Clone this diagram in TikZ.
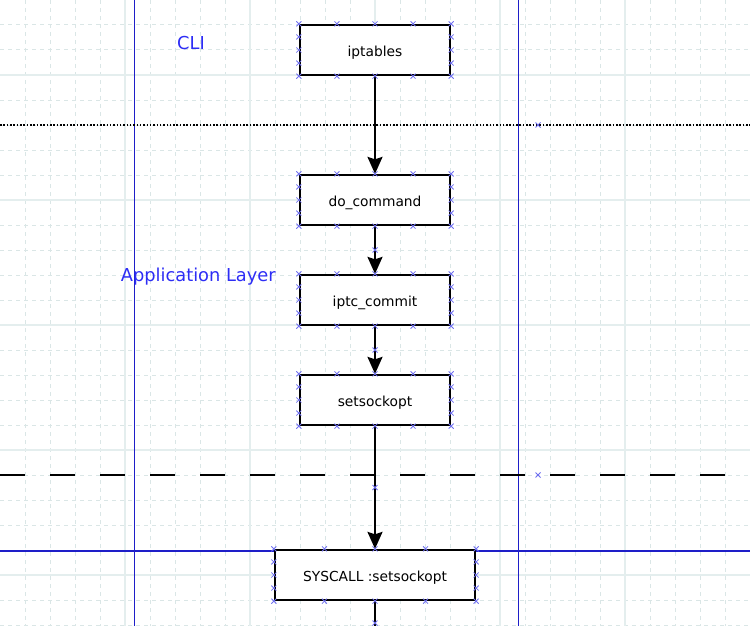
\documentclass[tikz,border=0pt]{standalone}
\usepackage{fontspec}
\setmainfont{DejaVu Sans}
\usetikzlibrary{arrows.meta,calc}
\definecolor{gridminor}{RGB}{218,230,230}
\definecolor{gridmajor}{RGB}{228,238,238}
\definecolor{laneblue}{RGB}{30,30,200}
\definecolor{labelblue}{RGB}{45,45,245}
\definecolor{markblue}{RGB}{110,110,240}
\tikzset{
  minorgrid/.style={draw=gridminor,line width=1pt,dash pattern=on 4pt off 4pt},
  majorgrid/.style={draw=gridmajor,line width=1.5pt},
  laneline/.style={draw=laneblue,line width=1.3pt},
  stepbox/.style={draw=black,fill=white,line width=2.3pt,minimum width=150pt,minimum height=50pt,inner sep=0pt,text height=13pt,text depth=0pt,font=\fontsize{13.8pt}{16pt}\selectfont},
  conn/.style={draw=black,line width=2pt,-{Stealth[length=17pt,width=15pt,inset=2.5pt]}},
  plainconn/.style={draw=black,line width=2pt},
  lanelabel/.style={text=labelblue,anchor=base,inner sep=0pt,font=\fontsize{17.8pt}{20pt}\selectfont},
  markx/.style={draw=markblue,line width=0.8pt},
}
\newcommand\mkx[1]{\draw[markx] ($(#1)+(-2.5,-2.5)$) -- ++(5,5) ($(#1)+(-2.5,2.5)$) -- ++(5,-5);}
\newcommand\boxmarks[1]{%
  \foreach \t in {0,0.25,0.5,0.75,1}{%
    \mkx{$(#1.north west)!\t!(#1.north east)$}
    \mkx{$(#1.south west)!\t!(#1.south east)$}}
  \foreach \t in {0.25,0.5,0.75}{%
    \mkx{$(#1.north west)!\t!(#1.south west)$}
    \mkx{$(#1.north east)!\t!(#1.south east)$}}}
\begin{document}
\begin{tikzpicture}[x=1pt,y=-1pt]
\useasboundingbox (0,0) rectangle (750,626);
\clip (0,0) rectangle (750,626);
% grid
\foreach \x in {25,50,...,725} \draw[minorgrid] (\x,0) -- (\x,626);
\foreach \y in {0,25,...,625} \draw[minorgrid] (0,\y) -- (750,\y);
\foreach \x in {125,250,375,500,625} \draw[majorgrid] (\x,0) -- (\x,626);
\foreach \y in {75,200,325,450,575} \draw[majorgrid] (0,\y) -- (750,\y);
% lanes
\coordinate (vl1t) at (134.5,0); \coordinate (vl1b) at (134.5,626);
\coordinate (vl2t) at (518.3,0); \coordinate (vl2b) at (518.3,626);
\coordinate (hl1l) at (0,551); \coordinate (hl1r) at (750,551);
\draw[laneline] (vl1t) -- (vl1b);
\draw[laneline] (vl2t) -- (vl2b);
\draw[laneline] (hl1l) -- (hl1r);
% separators
\coordinate (dotl) at (0,125); \coordinate (dotr) at (750,125);
\coordinate (dashl) at (0,475); \coordinate (dashr) at (725,475);
\draw[line width=2pt,dash pattern=on 1.6pt off 1.73pt] (dotl) -- (dotr);
\draw[line width=2pt,dash pattern=on 25pt off 25pt] (dashl) -- (dashr);
% labels
\node[lanelabel] (cli) at (191,50) {CLI};
\node[lanelabel] (app) at (198.3,281) {Application Layer};
% boxes
\node[stepbox] (ipt) at (375,50) {iptables};
\node[stepbox] (doc) at (375,200) {do\_command};
\node[stepbox] (com) at (375,300) {iptc\_commit};
\node[stepbox] (sso) at (375,400) {setsockopt};
\node[stepbox,minimum width=200pt] (sys) at (375,575) {SYSCALL :setsockopt};
\coordinate (bend) at (375,640);
% connectors
\draw[conn] (ipt) -- (doc);
\draw[conn] (doc) -- (com);
\draw[conn] (com) -- (sso);
\draw[conn] (sso) -- (sys);
\draw[plainconn] (sys) -- (bend);
% markers
\boxmarks{ipt}
\boxmarks{doc}
\boxmarks{com}
\boxmarks{sso}
\boxmarks{sys}
\mkx{375,250}
\mkx{375,350}
\mkx{375,487.5}
\mkx{375,623}
\mkx{538,125}
\mkx{538,475}
\end{tikzpicture}
\end{document}
